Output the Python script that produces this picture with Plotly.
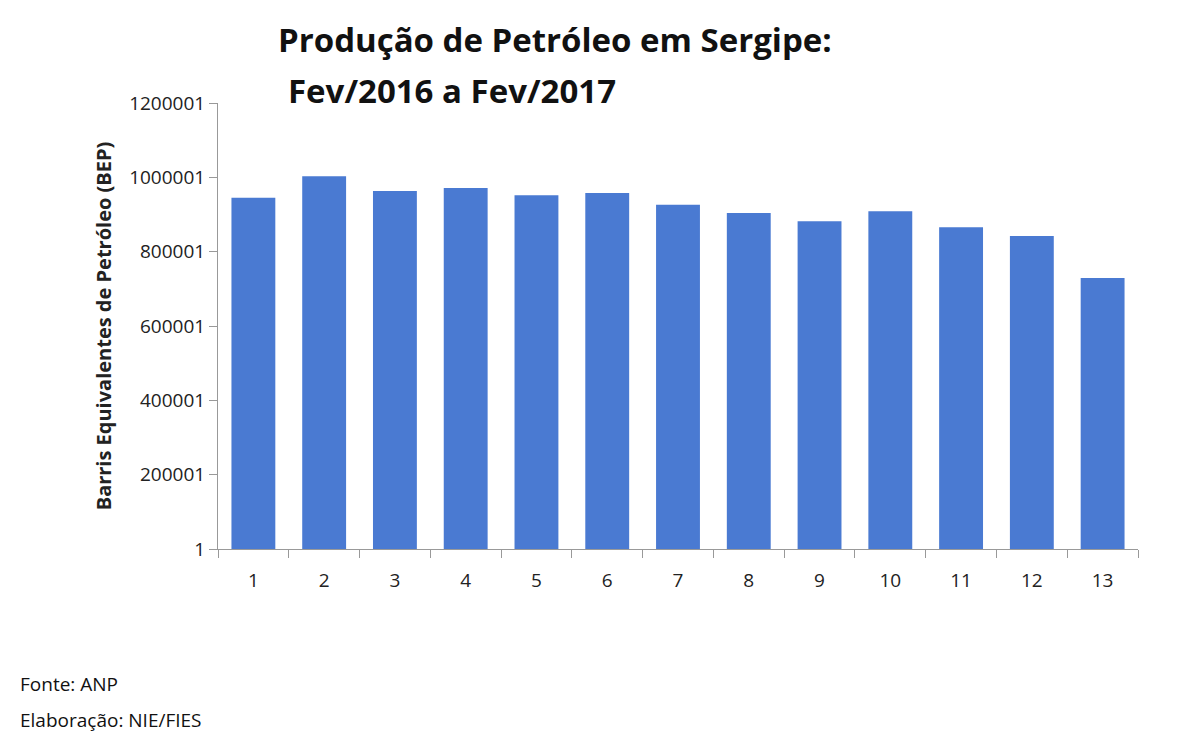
import plotly.graph_objects as go

meses = [str(i) for i in range(1, 14)]
producao = [945000, 1003000, 963000, 971000, 952000, 958000, 926000,
            904000, 882000, 909000, 866000, 842000, 729000]
ticks_y = [1, 200001, 400001, 600001, 800001, 1000001, 1200001]

L, R, T, B = 210, 70, 95, 192
W, H = 1200, 733


def px(x, y):
    # pixel position (from top-left) -> paper fractions
    return (x - L) / (W - L - R), (H - B - y) / (H - T - B)


fig = go.Figure(go.Bar(x=meses, y=producao, width=0.62,
                       marker=dict(color="#4a7ad2", line=dict(width=0))))

textos = [
    ("<b>Produção de Petróleo em Sergipe:</b>", 268, 32, 33),
    ("<b>Fev/2016 a Fev/2017</b>", 278, 82, 33),
    ("Fonte: ANP", 10, 676, 19),
    ("Elaboração: NIE/FIES", 10, 712, 19),
]
anns = []
for txt, x, y, s in textos:
    fx, fy = px(x, y)
    anns.append(dict(text=txt, x=fx, y=fy, xref="paper", yref="paper",
                     showarrow=False, xanchor="left", yanchor="middle",
                     font=dict(size=s, color="#111")))

fig.update_layout(
    width=W, height=H, paper_bgcolor="white", plot_bgcolor="white",
    margin=dict(l=L, r=R, t=T, b=B),
    font=dict(family="Open Sans", size=19, color="#222"),
    showlegend=False, annotations=anns,
)

fig.update_xaxes(showline=True, linecolor="#999", ticks="outside", ticklen=8,
                 tickcolor="#999", tickson="boundaries", showgrid=False,
                 ticklabelstandoff=14)
fig.update_yaxes(range=[1, 1200001], tickvals=ticks_y, ticktext=[str(v) for v in ticks_y],
                 showline=True, linecolor="#999", ticks="outside", ticklen=8,
                 tickcolor="#999", showgrid=False, zeroline=False,
                 title=dict(text="<b>Barris Equivalentes de Petróleo (BEP)</b>",
                            font=dict(size=20), standoff=12))

fig.write_html("out.html")
